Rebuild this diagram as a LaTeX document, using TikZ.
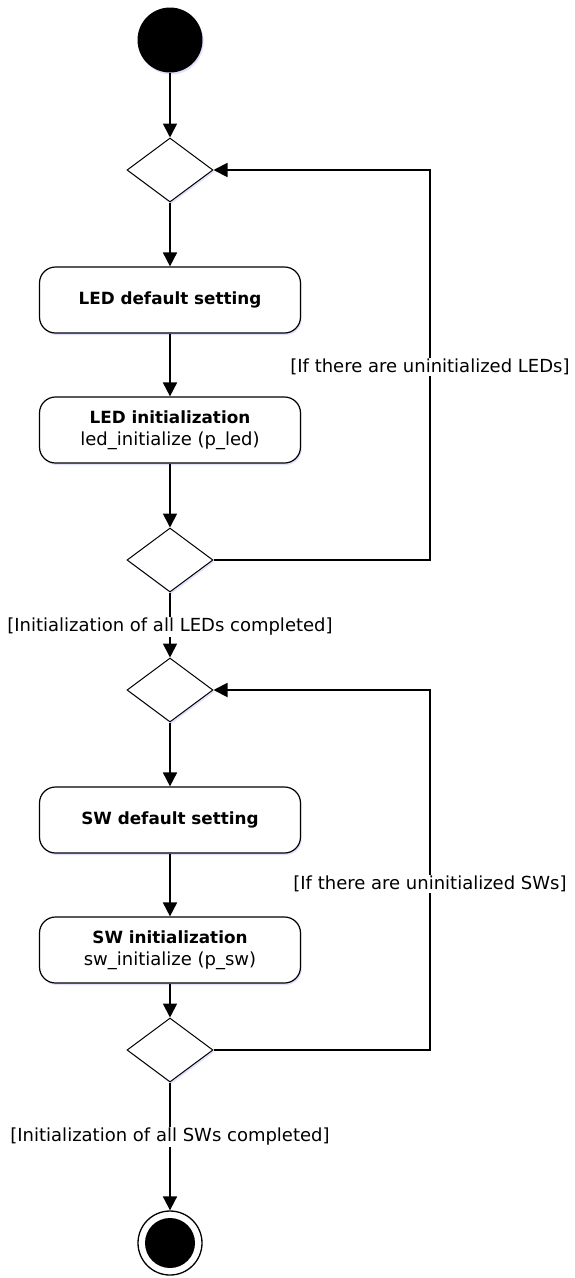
\documentclass[tikz,border=0pt]{standalone}
\usepackage{fontspec}
\setmainfont{DejaVu Sans}
\usetikzlibrary{shapes.geometric,arrows.meta,shadows}
\newcommand{\hd}[1]{{\fontsize{16.8}{20}\selectfont\bfseries #1}}
\newcommand{\fn}[1]{{\fontsize{18}{21}\selectfont #1}}
\begin{document}
\begin{tikzpicture}[x=1pt,y=-1pt,
  every node/.style={font=\fontsize{18}{21}\selectfont},
  conn/.style={line width=1.8pt,-{Triangle[length=14pt,width=14pt]}},
  sh/.style={drop shadow={shadow xshift=1.2pt,shadow yshift=-2pt,fill=blue!12,opacity=1}},
  dec/.style={diamond,draw,line width=1pt,fill=white,minimum width=86pt,minimum height=64pt,inner sep=0pt,sh},
  act/.style={rectangle,rounded corners=16pt,draw,line width=1.2pt,fill=white,minimum width=261pt,minimum height=66pt,align=center,sh,inner sep=2pt},
  guard/.style={fill=white,inner sep=1pt}
]
\useasboundingbox (0,0) rectangle (575,1278);
\node[circle,fill=black,minimum size=65pt,inner sep=0pt,sh] (start) at (170,40) {};
\node[dec] (d1) at (170,170) {};
\node[act] (b1) at (170,300) {\hd{LED default setting}};
\node[act] (b2) at (170,430) {\hd{LED initialization}\\[1pt]\fn{led\_initialize (p\_led)}};
\node[dec] (d2) at (170,560) {};
\node[dec] (d3) at (170,690) {};
\node[act] (b3) at (170,820) {\hd{SW default setting}};
\node[act] (b4) at (170,950) {\hd{SW initialization}\\[1pt]\fn{sw\_initialize (p\_sw)}};
\node[dec] (d4) at (170,1050) {};
\node[circle,draw,line width=1.3pt,fill=white,minimum size=64pt,inner sep=0pt] (end) at (170,1243) {};
\node[circle,fill=black,minimum size=50pt,inner sep=0pt] (endin) at (end.center) {};
\coordinate (c1a) at (430,560);
\coordinate (c1b) at (430,170);
\coordinate (c2a) at (430,1050);
\coordinate (c2b) at (430,690);

\draw[conn] (start) -- (d1);
\draw[conn] (d1) -- (b1);
\draw[conn] (b1) -- (b2);
\draw[conn] (b2) -- (d2);
\draw[conn] (d2.east) -- (c1a) -- (c1b) -- (d1.east);
\node[guard] (g1) at (430,367) {[If there are uninitialized LEDs]};
\draw[conn] (d2) -- (d3);
\node[guard] (g2) at (170,627) {[Initialization of all LEDs completed]};
\draw[conn] (d3) -- (b3);
\draw[conn] (b3) -- (b4);
\draw[conn] (b4) -- (d4);
\draw[conn] (d4.east) -- (c2a) -- (c2b) -- (d3.east);
\node[guard] (g3) at (430,884) {[If there are uninitialized SWs]};
\draw[conn] (d4.south) -- (end.north);
\node[guard] (g4) at (170,1137) {[Initialization of all SWs completed]};
\end{tikzpicture}
\end{document}
